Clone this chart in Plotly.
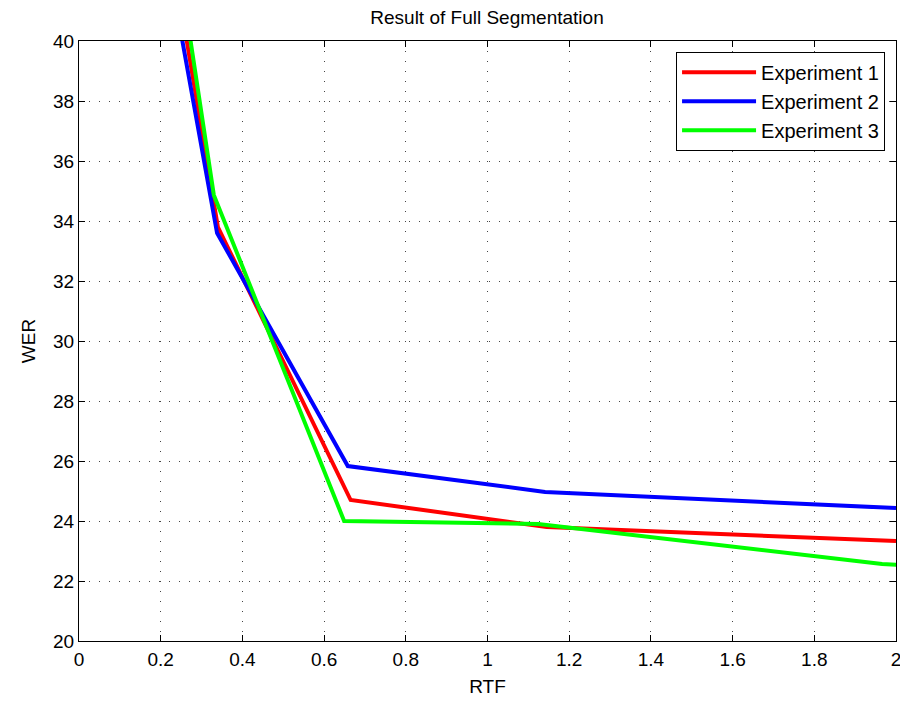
import plotly.graph_objects as go

# Data
rtf_exp1 = [0.20, 0.340, 0.665, 1.145, 2.00]
wer_exp1 = [45.2, 33.80, 24.70, 23.80, 23.33]

rtf_exp2 = [0.20, 0.338, 0.658, 1.141, 2.00]
wer_exp2 = [44.0, 33.60, 25.83, 24.97, 24.43]

rtf_exp3 = [0.20, 0.330, 0.649, 1.124, 1.966, 2.05]
wer_exp3 = [46.6, 34.87, 24.00, 23.90, 22.57, 22.50]

series = [
    ("Experiment 1", rtf_exp1, wer_exp1, "#ff0000"),
    ("Experiment 2", rtf_exp2, wer_exp2, "#0000ff"),
    ("Experiment 3", rtf_exp3, wer_exp3, "#00ff00"),
]

x_ticks = [0, 0.2, 0.4, 0.6, 0.8, 1, 1.2, 1.4, 1.6, 1.8, 2]
x_tick_labels = ["0", "0.2", "0.4", "0.6", "0.8", "1", "1.2", "1.4", "1.6", "1.8", "2"]
y_ticks = list(range(20, 41, 2))

FONT = "Liberation Sans, Arial, sans-serif"
W, H = 908, 702
OFF = 8  # page body margin offset

fig = go.Figure()
for name, xs, ys, col in series:
    fig.add_trace(go.Scatter(x=xs, y=ys, mode="lines", name=name,
                             line=dict(color=col, width=4)))

fig.update_layout(
    width=W, height=H,
    paper_bgcolor="white", plot_bgcolor="white",
    margin=dict(l=79 - OFF, r=W - (896 - OFF), t=41 - OFF, b=H - (641 - OFF), autoexpand=False),
    font=dict(family=FONT, color="black", size=18),
    title=dict(text="Result of Full Segmentation", x=(487 - OFF) / W, xanchor="center",
               y=1 - (17 - OFF) / H, yanchor="middle", font=dict(size=19, family=FONT)),
    legend=dict(x=0.9866, y=0.982, xanchor="right", yanchor="top",
                bgcolor="white", bordercolor="black", borderwidth=1,
                font=dict(size=20, family=FONT), tracegroupgap=0,
                itemwidth=74),
    showlegend=True,
)

axis_common = dict(
    showline=True, linecolor="black", linewidth=1, mirror="ticks",
    ticks="inside", ticklen=6, tickcolor="black",
    showgrid=True, gridcolor="#444444", griddash="1px,9px", gridwidth=1,
    zeroline=False, tickfont=dict(size=19, family=FONT), automargin=False,
)

fig.update_xaxes(range=[0, 2], tickvals=x_ticks, ticktext=x_tick_labels,
                 title=dict(text="RTF", font=dict(size=19, family=FONT), standoff=10),
                 ticklabelstandoff=1, **axis_common)
fig.update_yaxes(range=[20, 40], tickvals=y_ticks,
                 title=dict(text="WER", font=dict(size=19, family=FONT), standoff=12),
                 ticklabelstandoff=0, **axis_common)

fig.write_html("out.html")
